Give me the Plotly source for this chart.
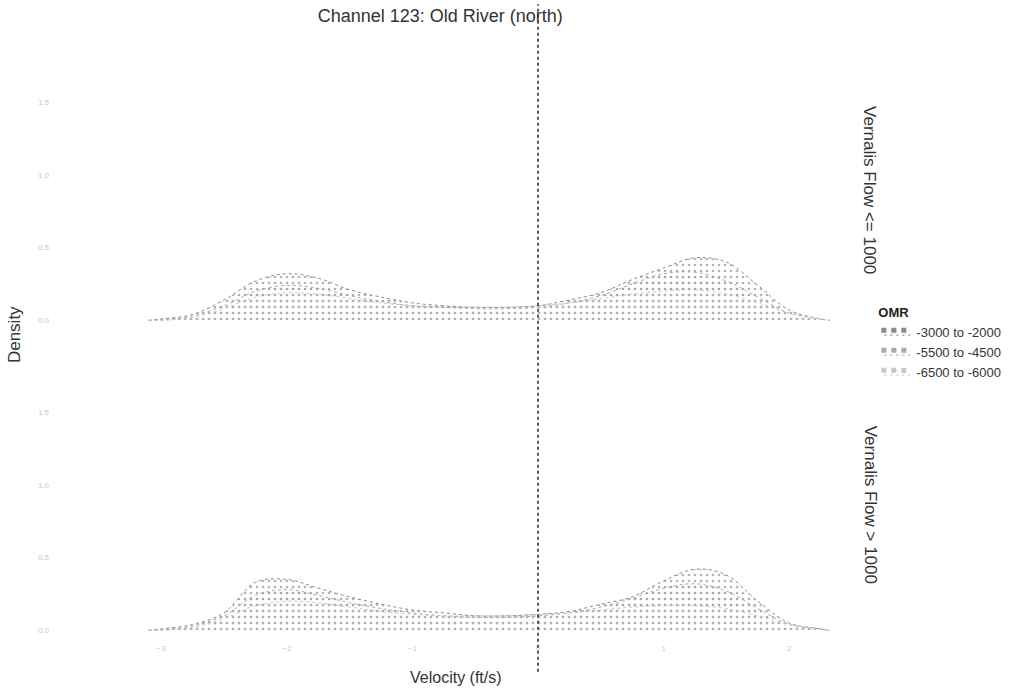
import plotly.graph_objects as go

# ---- data ----
velocity = [-3.1, -3.0, -2.75, -2.5, -2.25, -2.0, -1.75, -1.5, -1.25, -1.0, -0.75, -0.5,
            -0.25, 0.0, 0.25, 0.5, 0.75, 1.0, 1.25, 1.5, 1.75, 2.0, 2.25, 2.32]

omr_groups = ["-3000 to -2000", "-5500 to -4500", "-6500 to -6000"]
facets = ["Vernalis Flow <= 1000", "Vernalis Flow > 1000"]

# top facet (Vernalis Flow <= 1000)
low_3000 = [0.0, 0.01, 0.04, 0.14, 0.27, 0.32, 0.29, 0.21, 0.16, 0.12, 0.10, 0.09,
            0.09, 0.10, 0.14, 0.19, 0.28, 0.36, 0.43, 0.40, 0.24, 0.07, 0.01, 0.0]
low_5500 = [0.0, 0.00, 0.03, 0.10, 0.20, 0.24, 0.22, 0.17, 0.13, 0.10, 0.09, 0.08,
            0.08, 0.09, 0.12, 0.17, 0.25, 0.32, 0.33, 0.27, 0.16, 0.05, 0.01, 0.0]
low_6500 = [0.0, 0.00, 0.02, 0.08, 0.16, 0.19, 0.18, 0.15, 0.12, 0.10, 0.09, 0.09,
            0.09, 0.10, 0.12, 0.15, 0.18, 0.20, 0.21, 0.18, 0.12, 0.05, 0.01, 0.0]
# bottom facet (Vernalis Flow > 1000)
high_3000 = [0.0, 0.01, 0.04, 0.12, 0.33, 0.35, 0.29, 0.23, 0.18, 0.14, 0.12, 0.10,
             0.10, 0.11, 0.13, 0.18, 0.23, 0.34, 0.42, 0.38, 0.20, 0.05, 0.01, 0.0]
high_5500 = [0.0, 0.00, 0.03, 0.10, 0.24, 0.28, 0.24, 0.19, 0.15, 0.12, 0.10, 0.09,
             0.09, 0.10, 0.12, 0.16, 0.22, 0.29, 0.32, 0.27, 0.15, 0.04, 0.01, 0.0]
high_6500 = [0.0, 0.00, 0.02, 0.08, 0.17, 0.20, 0.19, 0.16, 0.13, 0.11, 0.10, 0.10,
             0.10, 0.11, 0.12, 0.14, 0.16, 0.17, 0.17, 0.15, 0.10, 0.04, 0.01, 0.0]

x_ticks = [-3, -2, -1, 0, 1, 2]
y_ticks = [0.0, 0.5, 1.0, 1.5]
y_tick_text = ["0.0", "0.5", "1.0", "1.5"]

# ---- styling ----
FONT = "Liberation Sans, Arial, sans-serif"
fg = ["#666666", "#9c9c9c", "#bdbdbd"]
line_col = ["#8a8a8a", "#aaaaaa", "#c8c8c8"]

fig = go.Figure()
panels = [("x", "y", [low_3000, low_5500, low_6500], True),
          ("x2", "y2", [high_3000, high_5500, high_6500], False)]
for xa, ya, series, show in panels:
    for i, (name, vals) in enumerate(zip(omr_groups, series)):
        fig.add_trace(go.Scatter(
            x=velocity, y=vals, xaxis=xa, yaxis=ya, name=name,
            legendgroup=name, showlegend=show, mode="lines",
            line=dict(color=line_col[i], width=1, dash="dot", shape="spline"),
            fill="tozeroy", fillcolor="rgba(0,0,0,0)",
            fillpattern=dict(shape=".", fgcolor=fg[i], bgcolor="rgba(0,0,0,0)",
                             size=6, solidity=0.15),
        ))

xr = [-3.885, 2.404]
yr = [-0.08, 1.72]
tickfont = dict(family=FONT, size=8, color="#c8c8c8")
common_x = dict(range=xr, showgrid=False, zeroline=False, showline=False, automargin=False,
                tickvals=x_ticks, ticks="", tickfont=tickfont)
common_y = dict(range=yr, showgrid=False, zeroline=False, showline=False, automargin=False,
                tickvals=y_ticks, ticktext=y_tick_text, ticks="", tickfont=tickfont)

fig.update_layout(
    width=1028, height=692,
    margin=dict(l=50, r=188, t=70, b=50),
    paper_bgcolor="white", plot_bgcolor="white",
    font=dict(family=FONT, size=12, color="#333333"),
    title=dict(text="Channel 123: Old River (north)", x=0.494, xref="paper",
               xanchor="center", y=0.978, yanchor="middle",
               font=dict(family=FONT, size=18, color="#333333")),
    xaxis=dict(common_x, domain=[0, 1], anchor="y", showticklabels=False, matches="x2"),
    yaxis=dict(common_y, domain=[0.542, 1], anchor="x"),
    xaxis2=dict(common_x, domain=[0, 1], anchor="y2"),
    yaxis2=dict(common_y, domain=[0, 0.458], anchor="x2"),
    legend=dict(title=dict(text="<b>OMR</b>", font=dict(family=FONT, size=13, color="#222")),
                x=1.046, xanchor="left", y=0.597, yanchor="top",
                font=dict(family=FONT, size=13, color="#333"), itemwidth=30,
                tracegroupgap=0, itemsizing="constant", bgcolor="rgba(0,0,0,0)"),
    showlegend=True,
)

# vertical dotted reference line at zero velocity
fig.add_shape(type="line", xref="x2", yref="paper", x0=0, x1=0, y0=-0.052, y1=1.115,
              line=dict(color="#222222", width=1.5, dash="dot"))

# facet strip labels
fig.add_annotation(text=facets[0], xref="paper", yref="paper", x=1.038, y=0.790,
                   textangle=90, showarrow=False, xanchor="center", yanchor="middle",
                   font=dict(family=FONT, size=17, color="#333"))
fig.add_annotation(text=facets[1], xref="paper", yref="paper", x=1.038, y=0.240,
                   textangle=90, showarrow=False, xanchor="center", yanchor="middle",
                   font=dict(family=FONT, size=17, color="#333"))
# axis titles
fig.add_annotation(text="Velocity (ft/s)", xref="paper", yref="paper", x=0.514, y=-0.044,
                   showarrow=False, xanchor="center", yanchor="top",
                   font=dict(family=FONT, size=16, color="#333"))
fig.add_annotation(text="Density", xref="paper", yref="paper", x=-0.044, y=0.537,
                   textangle=-90, showarrow=False, xanchor="center", yanchor="middle",
                   font=dict(family=FONT, size=17, color="#333"))

fig.write_html("out.html", config={"displayModeBar": False},
               post_script="document.body.style.margin='0';")
